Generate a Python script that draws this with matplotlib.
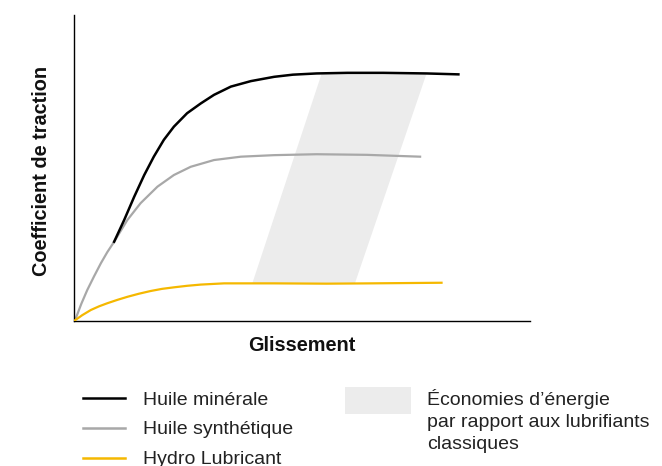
import matplotlib
matplotlib.use('Agg')
import matplotlib.pyplot as plt
from matplotlib.lines import Line2D
from matplotlib.patches import Rectangle

plt.rcParams['font.family'] = ['Liberation Sans', 'DejaVu Sans']

# Curves (glissement 0-100, coefficient 0-100)
mineral_x = [8.8, 11.0, 13.2, 15.4, 17.5, 19.7, 21.9, 24.8, 27.8, 30.7, 34.4, 38.8,
             43.9, 48.0, 53.2, 60.0, 67.8, 77.3, 84.3]
mineral_y = [25.9, 33.0, 40.6, 47.7, 53.7, 59.2, 63.5, 67.9, 71.1, 73.9, 76.6, 78.4,
             79.8, 80.5, 80.9, 81.1, 81.1, 80.9, 80.6]

synth_x = [0, 0.4, 1.6, 2.9, 4.4, 5.9, 7.3, 8.8, 11.7, 14.6, 18.3, 21.9, 25.6, 30.7,
           36.6, 43.9, 53.2, 64.2, 75.9]
synth_y = [0, 0.9, 5.6, 10.1, 14.6, 18.9, 22.5, 25.9, 33.0, 38.5, 43.9, 47.7, 50.4,
           52.6, 53.7, 54.2, 54.5, 54.3, 53.7]

hydro_x = [0, 1.8, 3.7, 5.5, 7.3, 9.5, 11.7, 14.2, 16.8, 19.3, 21.9, 24.8, 27.8, 32.9,
           38.8, 43.9, 55.4, 65.0, 80.6]
hydro_y = [0, 1.9, 3.6, 4.8, 5.8, 6.9, 7.9, 8.9, 9.8, 10.5, 11.0, 11.5, 11.9, 12.3,
           12.3, 12.3, 12.2, 12.3, 12.5]

# Energy saving band (parallelogram corners)
band_x = [39.1, 61.6, 77.3, 54.3]
band_y = [12.3, 12.3, 80.8, 80.8]

labels = ['Huile minérale', 'Huile synthétique', 'Hydro Lubricant']
colors = ['#000000', '#a8a8a8', '#f5b800']
band_label = 'Économies d’énergie\npar rapport aux lubrifiants\nclassiques'
band_color = '#ececec'

fig = plt.figure(figsize=(6.62, 4.66), dpi=100)
ax = fig.add_axes([74 / 662, 1 - 321 / 466, 456 / 662, 306 / 466])

ax.fill(band_x, band_y, color=band_color, lw=0, zorder=1)
ax.plot(synth_x, synth_y, color=colors[1], lw=1.6, zorder=2, solid_joinstyle='round')
ax.plot(hydro_x, hydro_y, color=colors[2], lw=1.6, zorder=3, solid_joinstyle='round')
ax.plot(mineral_x, mineral_y, color=colors[0], lw=1.8, zorder=4, solid_joinstyle='round')

ax.set_xlim(0, 100)
ax.set_ylim(0, 100)
ax.set_xticks([])
ax.set_yticks([])
ax.spines['top'].set_visible(False)
ax.spines['right'].set_visible(False)
ax.spines['left'].set_linewidth(1.0)
ax.spines['bottom'].set_linewidth(1.0)

ax.set_xlabel('Glissement', fontsize=14.3, fontweight='bold', color='#111111')
ax.xaxis.set_label_coords(0.5, -0.05)
ax.set_ylabel('Coefficient de traction', fontsize=14.3, fontweight='bold', color='#111111')
ax.yaxis.set_label_coords(-0.05, 0.49)

# Legend for the three oils
handles = [Line2D([], [], color=c, lw=1.8) for c in colors]
leg = ax.legend(handles, labels, loc='upper left',
                bbox_to_anchor=(83 / 662, 1 - 391 / 466), bbox_transform=fig.transFigure,
                frameon=False, fontsize=14, handlelength=2.16, handletextpad=0.93,
                labelspacing=0.63, borderpad=0, borderaxespad=0)
for t in leg.get_texts():
    t.set_color('#222222')

# Legend entry for the shaded band
fig.add_artist(Rectangle((345 / 662, 1 - 414 / 466), 66 / 662, 27 / 466,
                         transform=fig.transFigure, color=band_color, lw=0))
fig.text(427 / 662, 1 - 389 / 466, band_label, fontsize=14, color='#222222',
         va='top', ha='left', linespacing=1.4)

fig.savefig('out.png', dpi=100)
